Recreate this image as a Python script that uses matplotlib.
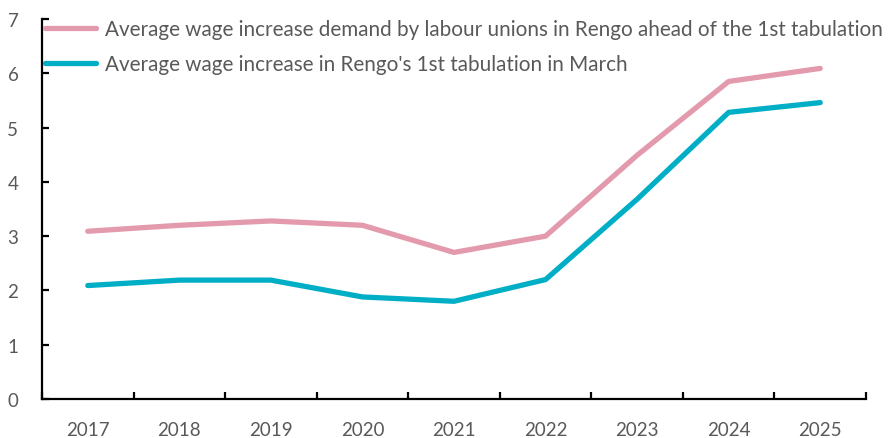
import numpy as np
import matplotlib.pyplot as plt

years = ['2017', '2018', '2019', '2020', '2021', '2022', '2023', '2024', '2025']
demand = [3.09, 3.2, 3.28, 3.2, 2.7, 3.0, 4.49, 5.85, 6.09]
actual = [2.09, 2.19, 2.19, 1.88, 1.8, 2.2, 3.68, 5.28, 5.46]

label_demand = 'Average wage increase demand by labour unions in Rengo ahead of the 1st tabulation'
label_actual = "Average wage increase in Rengo's 1st tabulation in March"

plt.rcParams['font.family'] = ['Lato', 'DejaVu Sans']

fig = plt.figure(figsize=(8.91, 4.39), dpi=100)
ax = fig.add_axes([42 / 891, 39 / 439, 824 / 891, 380 / 439])

x = np.arange(len(years))
ax.plot(x, demand, color='#E39AAD', lw=3.8, label=label_demand, solid_capstyle='round')
ax.plot(x, actual, color='#00AFC6', lw=3.8, label=label_actual, solid_capstyle='round')

ax.set_xlim(-0.5, len(years) - 0.5)
ax.set_ylim(0, 7)
ax.set_yticks(range(0, 8))
ax.set_xticks(x)
ax.set_xticklabels(years)
ax.set_xticks(np.arange(-0.5, len(years)), minor=True)

for s in ['top', 'right']:
    ax.spines[s].set_visible(False)
for s in ['left', 'bottom']:
    ax.spines[s].set_linewidth(1.6)

ax.tick_params(axis='x', which='major', length=0, pad=16, labelsize=13.5, labelcolor='#595959')
ax.tick_params(axis='x', which='minor', direction='in', length=5, width=1.6)
ax.tick_params(axis='y', direction='in', length=5, width=1.6, pad=17, labelsize=13.5, labelcolor='#595959')

leg = ax.legend(loc='upper left', bbox_to_anchor=(-0.007, 1.022), frameon=False, fontsize=14.9,
                handlelength=2.5, handletextpad=0.4, labelspacing=0.75, borderaxespad=0)
for t in leg.get_texts():
    t.set_color('#595959')

fig.savefig('out.png', dpi=100)
